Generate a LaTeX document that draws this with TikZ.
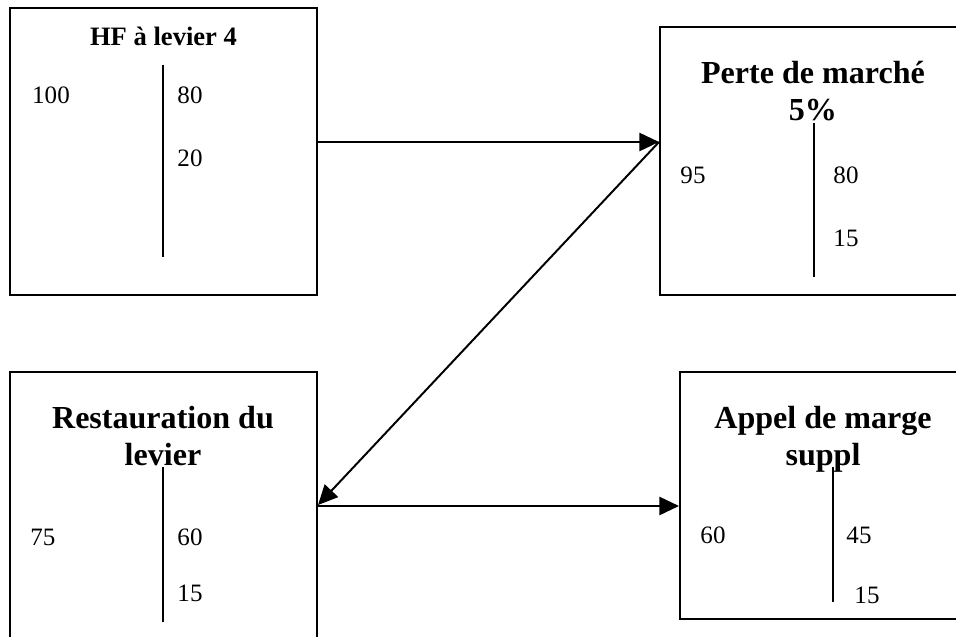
\documentclass[tikz,border=0pt]{standalone}
\usepackage{fontspec}
\setmainfont{Liberation Serif}
\usetikzlibrary{arrows.meta, positioning}

\begin{document}
\begin{tikzpicture}[x=0.025cm, y=-0.025cm, >={Triangle[length=14pt, width=13pt]}, line width=1.4pt]
	\tikzstyle{box} = [draw=black, rectangle, inner sep=0pt]
	\tikzstyle{num} = [inner sep=0pt, font=\fontsize{17.8}{21}\selectfont]
	\tikzstyle{big} = [inner sep=0pt, align=center, font=\fontsize{22.8}{26.3}\selectfont\bfseries]

	\clip (0,0) rectangle (956,637);

	\node[box, minimum width=7.675cm, minimum height=7.175cm] at (163.5, 151.5) (hf) {};
	\node[box, minimum width=7.65cm, minimum height=6.7cm] at (813, 161) (perte) {};
	\node[box, minimum width=7.675cm, minimum height=7.2cm] at (163.5, 516) (resto) {};
	\node[box, minimum width=7.15cm, minimum height=6.175cm] at (823, 495.5) (appel) {};

	\node[inner sep=0pt, font=\fontsize{18.9}{22}\selectfont\bfseries] at (163.5, 36) (hfT) {HF à levier 4};
	\node[big] at (813, 91) (perteT) {Perte de marché\\5\%};
	\node[big] at (163, 436) (restoT) {Restauration du\\levier};
	\node[big] at (823, 439) (appelT) {Appel de marge\\suppl};

	% bilans
	\draw (163, 65) -- (163, 257);
	\node[num] at (51, 95) (hfA) {100};
	\node[num] at (190, 95) (hfB) {80};
	\node[num] at (190, 158) (hfC) {20};

	\draw (814, 123) -- (814, 277);
	\node[num] at (693, 175) (perteA) {95};
	\node[num] at (846, 175) (perteB) {80};
	\node[num] at (846, 238) (perteC) {15};

	\draw (163, 467) -- (163, 622);
	\node[num] at (43, 537) (restoA) {75};
	\node[num] at (190, 537) (restoB) {60};
	\node[num] at (190, 593) (restoC) {15};

	\draw (833, 467) -- (833, 602);
	\node[num] at (713, 535) (appelA) {60};
	\node[num] at (859, 535) (appelB) {45};
	\node[num] at (867, 595) (appelC) {15};

	\path[->]
	(hf.east |- 0,142)		edge	(perte.west |- 0,142)
	(perte.west |- 0,142)	edge	(resto.east |- 0,505)
	(resto.east |- 0,506)	edge	(appel.west |- 0,506);
\end{tikzpicture}
\end{document}
